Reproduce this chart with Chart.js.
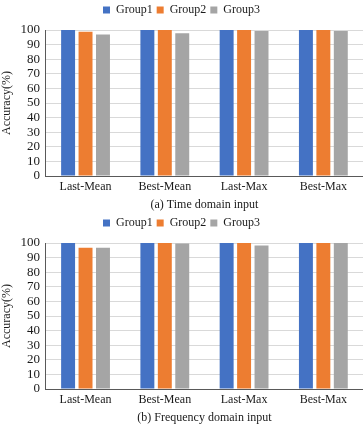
<!DOCTYPE html>
<html>
<head>
<meta charset="utf-8">
<script src="https://cdn.jsdelivr.net/npm/chart.js@4"></script>
<style>
  html, body { margin: 0; padding: 0; background: #fff; }
  .box { width: 363px; height: 213px; position: relative; }
</style>
</head>
<body>
<div class="box"><canvas id="chartTime"></canvas></div>
<div class="box"><canvas id="chartFreq"></canvas></div>
<script>
// Categorias e séries
const categorias = ['Last-Mean', 'Best-Mean', 'Last-Max', 'Best-Max'];
const grupos = ['Group1', 'Group2', 'Group3'];
const cores = ['#4472C4', '#ED7D31', '#A5A5A5'];

// (a) Time domain input
const tempoGroup1 = [100, 100, 100, 100];
const tempoGroup2 = [98.8, 100, 100, 100];
const tempoGroup3 = [97.0, 97.7, 99.4, 99.4];

// (b) Frequency domain input
const freqGroup1 = [100, 100, 100, 100];
const freqGroup2 = [96.8, 100, 100, 100];
const freqGroup3 = [96.8, 99.6, 98.3, 100];

const yTicks = [0, 10, 20, 30, 40, 50, 60, 70, 80, 90, 100];

const fonte = 'Liberation Serif';
const corTexto = '#1a1a1a';

// Espaço extra abaixo da legenda
const margemLegenda = {
  id: 'margemLegenda',
  beforeInit(chart) {
    const fitOriginal = chart.legend.fit;
    chart.legend.fit = function () {
      fitOriginal.bind(chart.legend)();
      this.height += 4;
    };
  }
};

function criarGrafico(canvasId, series, legenda) {
  return new Chart(document.getElementById(canvasId), {
    type: 'bar',
    data: {
      labels: categorias,
      datasets: series.map((s, i) => ({
        label: grupos[i],
        data: s,
        backgroundColor: cores[i],
        categoryPercentage: 0.66,
        barPercentage: 0.8
      }))
    },
    options: {
      responsive: true,
      maintainAspectRatio: false,
      animation: false,
      layout: { padding: { left: 0, right: 0, top: 0, bottom: 2 } },
      plugins: {
        legend: {
          position: 'top',
          labels: {
            boxWidth: 7,
            boxHeight: 7,
            padding: 4,
            color: corTexto,
            font: { family: fonte, size: 12 }
          }
        },
        tooltip: { enabled: false }
      },
      scales: {
        x: {
          grid: { display: false, drawTicks: false },
          border: { color: '#595959', width: 1 },
          ticks: { color: corTexto, padding: 5, font: { family: fonte, size: 12, lineHeight: 1 } },
          title: {
            display: true,
            text: legenda,
            color: corTexto,
            padding: { top: 1, bottom: 0 },
            font: { family: fonte, size: 12, lineHeight: 1 }
          }
        },
        y: {
          min: 0,
          max: 100,
          afterBuildTicks: axis => { axis.ticks = yTicks.map(v => ({ value: v })); },
          grid: { color: '#D9D9D9', drawTicks: false },
          border: { color: '#595959', width: 1 },
          ticks: { color: corTexto, padding: 6, autoSkip: false, font: { family: fonte, size: 13, lineHeight: 0.5 } },
          title: {
            display: true,
            text: 'Accuracy(%)',
            color: corTexto,
            padding: { top: 0, bottom: 0 },
            font: { family: fonte, size: 12 }
          }
        }
      }
    },
    plugins: [margemLegenda]
  });
}

criarGrafico('chartTime', [tempoGroup1, tempoGroup2, tempoGroup3], '(a) Time domain input');
criarGrafico('chartFreq', [freqGroup1, freqGroup2, freqGroup3], '(b) Frequency domain input');
</script>
</body>
</html>
